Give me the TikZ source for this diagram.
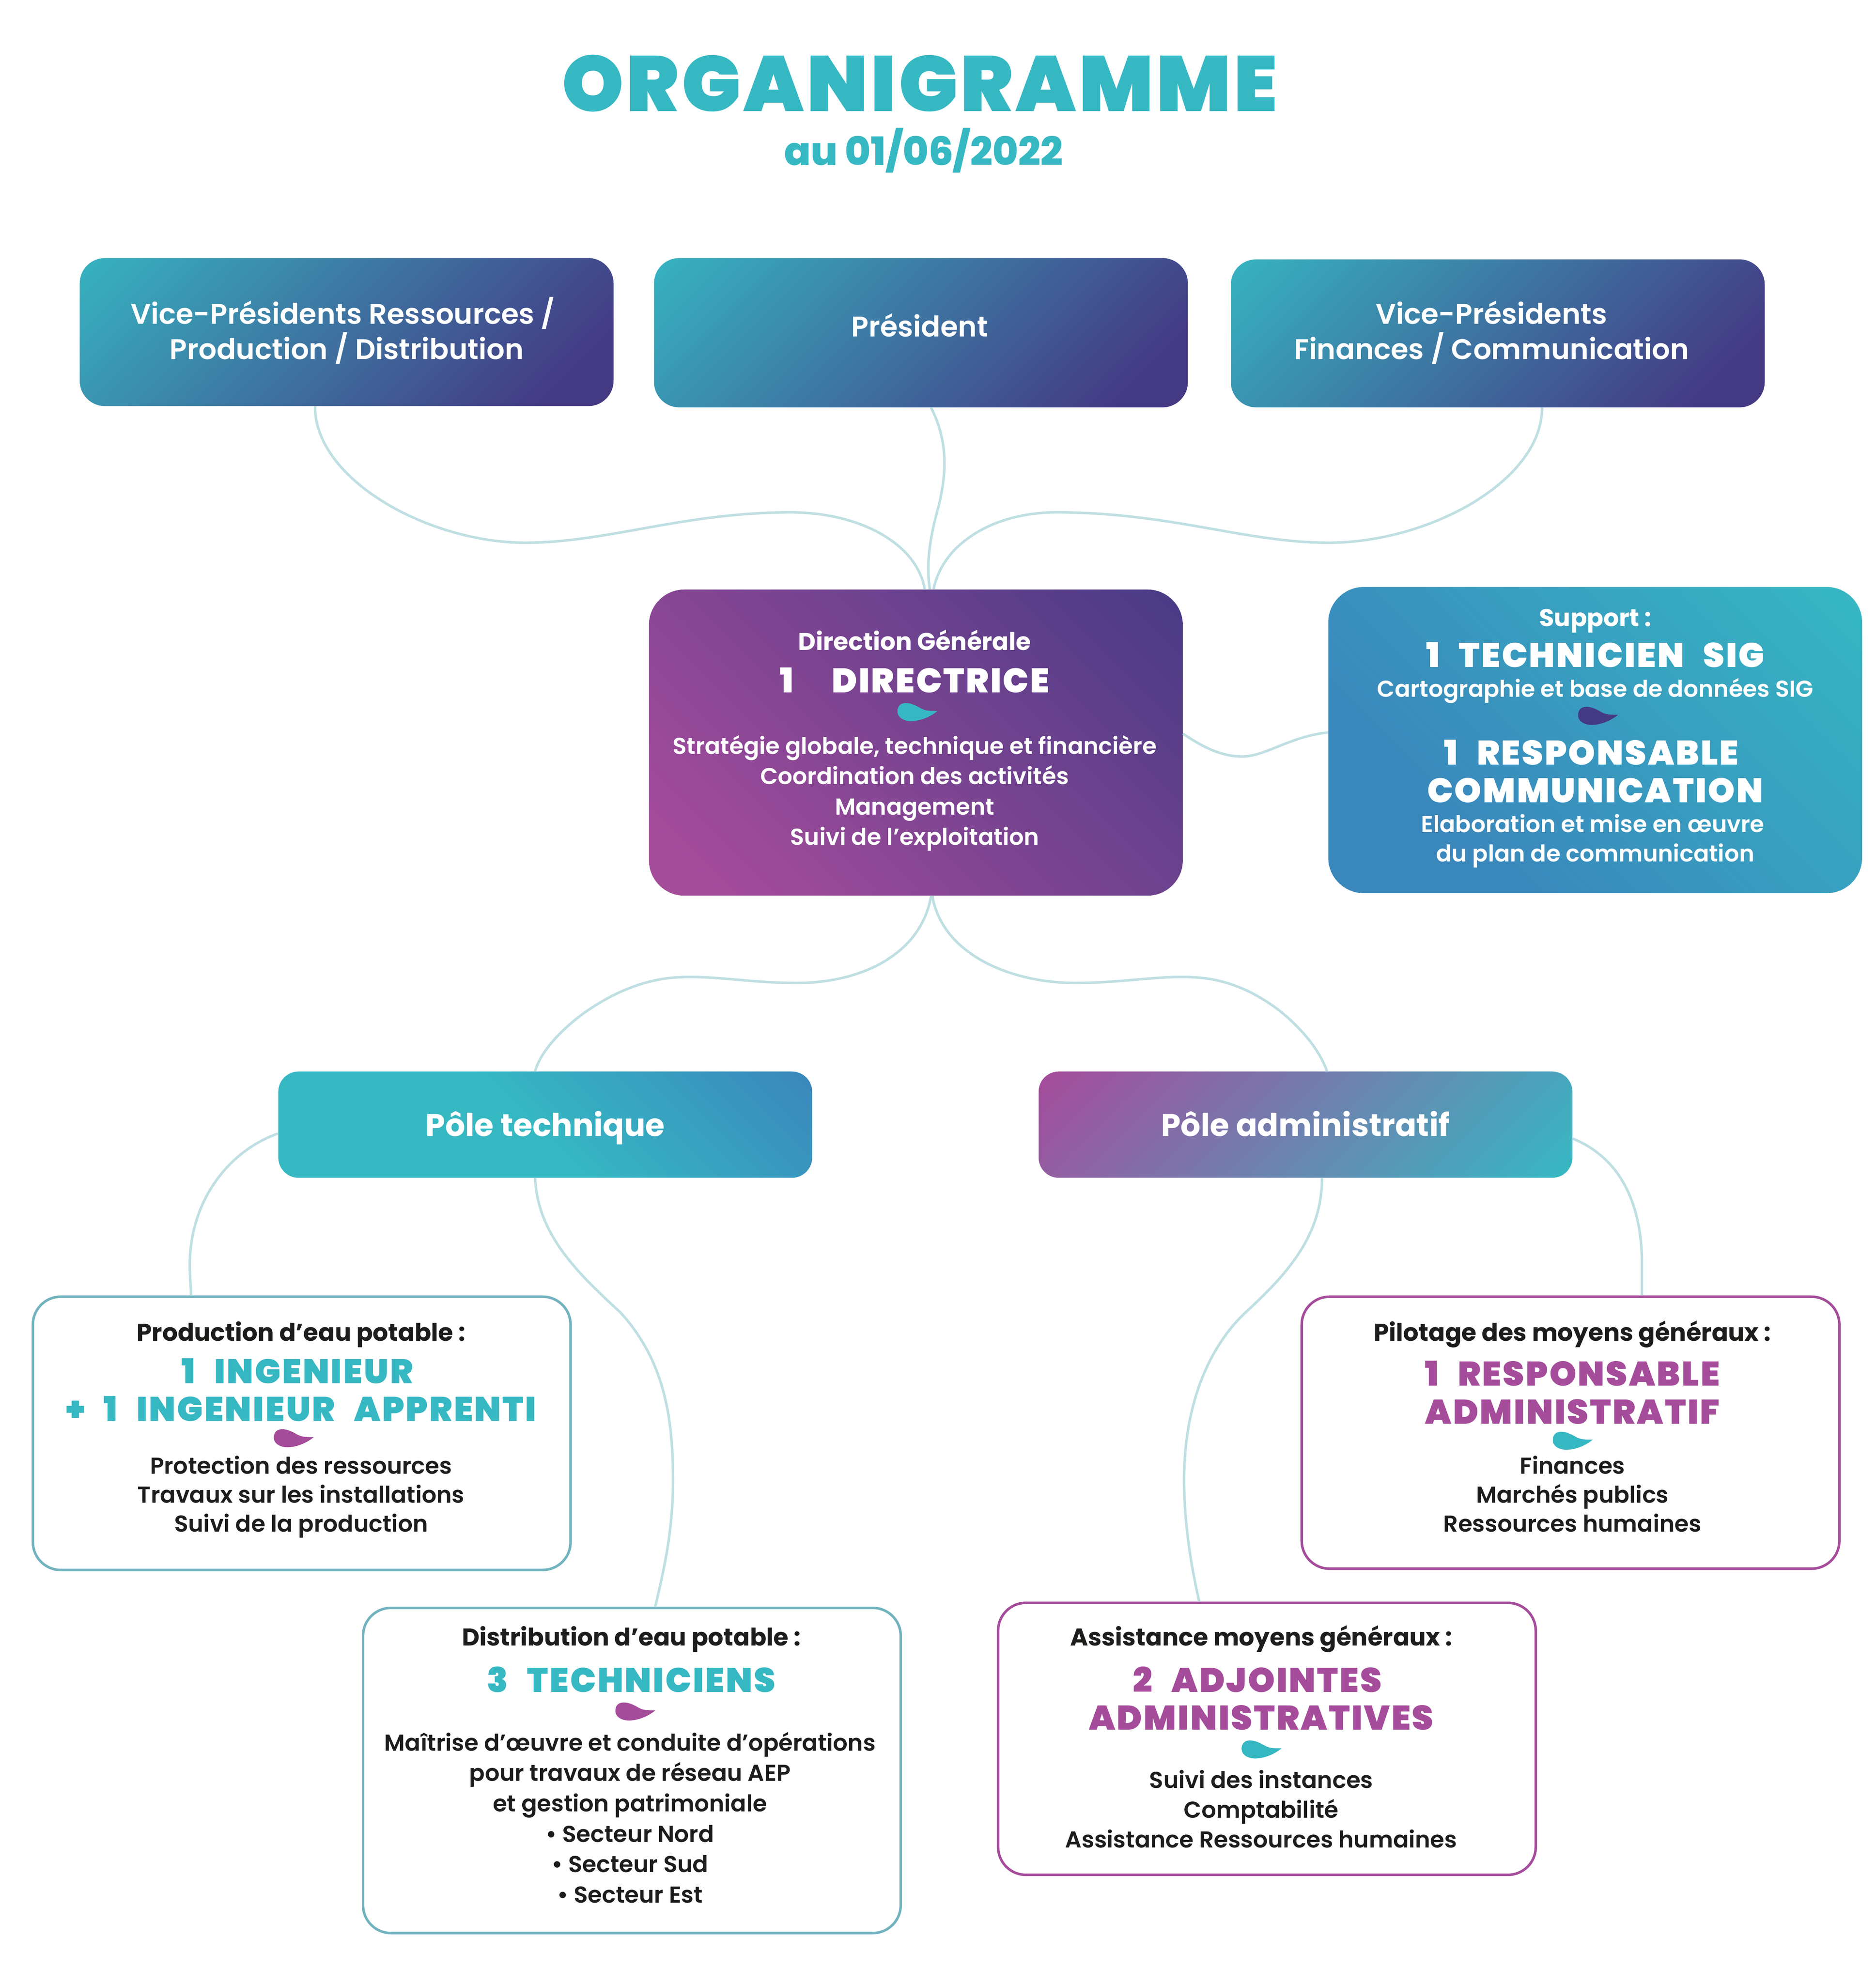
\documentclass[tikz,border=0pt]{standalone}
\usepackage{fontspec}
\setmainfont{Poppins}
\newfontface\fontMoyen{Poppins SemiBold}
\newfontface\fontGras{Poppins Bold}
\newfontface\fontExtra{Poppins ExtraBold}
\newfontface\fontTitre{Poppins Black}[LetterSpace=3.5]
\newfontface\fontLourd{Poppins Black}[LetterSpace=4.5,WordSpace=2.6]

\definecolor{teal1}{HTML}{36B8C3}
\definecolor{navy1}{HTML}{443A84}
\definecolor{blue1}{HTML}{3A87BC}
\definecolor{purple1}{HTML}{A54C9B}
\definecolor{light1}{HTML}{BFDFE3}
\definecolor{stroke1}{HTML}{72B3BF}
\definecolor{dark1}{HTML}{1D1D1B}

\pgfdeclareverticalshading{navyTeal}{100bp}{color(0bp)=(navy1); color(22bp)=(navy1); color(88bp)=(teal1); color(100bp)=(teal1)}
\pgfdeclareverticalshading{purpleNavy}{100bp}{color(0bp)=(purple1); color(20bp)=(purple1); color(88bp)=(navy1); color(100bp)=(navy1)}
\pgfdeclareverticalshading{blueTeal}{100bp}{color(0bp)=(blue1); color(30bp)=(blue1); color(85bp)=(teal1); color(100bp)=(teal1)}
\pgfdeclareverticalshading{tealBlue}{100bp}{color(0bp)=(teal1); color(48bp)=(teal1); color(85bp)=(blue1); color(100bp)=(blue1)}
\pgfdeclareverticalshading{tealPurple}{100bp}{color(0bp)=(teal1); color(15bp)=(teal1); color(85bp)=(purple1); color(100bp)=(purple1)}

\tikzstyle{box}=[inner sep=0pt,minimum width=422pt,rounded corners=20pt,shade]
\tikzstyle{plain}=[inner sep=0pt,minimum width=425pt,rounded corners=22pt,fill=white,line width=2pt]
\tikzstyle{link}=[light1,line width=2pt]
\tikzstyle{head}=[inner sep=0pt,anchor=base,yshift=-7pt,font=\fontGras\fontsize{19.2}{22}\selectfont]
\tikzstyle{rank}=[inner sep=0pt,anchor=base,yshift=-9.5pt,font=\fontLourd\fontsize{27}{30}\selectfont]
\tikzstyle{task}=[inner sep=0pt,anchor=base,yshift=-7pt,font=\fontMoyen\fontsize{18.2}{24}\selectfont]
\tikzstyle{nameLine}=[inner sep=0pt,anchor=base,yshift=-8pt,font=\fontMoyen\fontsize{22.5}{28}\selectfont,text=white]
\tikzstyle{poleName}=[inner sep=0pt,anchor=base,yshift=-9pt,font=\fontGras\fontsize{24.8}{28}\selectfont,text=white]

\newcommand{\drop}[3]{\fill[#3,shift={(#1,#2)}] (16,-1) .. controls (10,-1) and (7,-1) .. (3,-3) .. controls (-2,-6) and (-7,-8) .. (-11,-7) .. controls (-16,-6) and (-16,0) .. (-15,2) .. controls (-13,6) and (-8,7) .. (-5,7) .. controls (2,7) and (10,4) .. (16,-1) -- cycle;}

\begin{document}
\begin{tikzpicture}[x=1pt,y=-1pt]
	\useasboundingbox (0,0) rectangle (1482.8,1568.3);

	% Titre
	\node(title) at (727,66) [inner sep=0pt,text=teal1,font=\fontTitre\fontsize{62}{70}\selectfont] {ORGANIGRAMME};
	\node(date) at (730,119) [inner sep=0pt,text=teal1,font=\fontExtra\fontsize{31}{34}\selectfont] {au 01/06/2022};

	% Elus
	\node(vpLeft) at (274,262.5) [box, shading=navyTeal, shading angle=45, minimum height=117pt] {};
	\node(president) at (728,263) [box, shading=navyTeal, shading angle=45, minimum height=118pt] {};
	\node(vpRight) at (1184,263.5) [box, shading=navyTeal, shading angle=45, minimum height=117pt] {};
	\node(vpLeftA) at (271,248) [nameLine] {Vice-Présidents Ressources /};
	\node(vpLeftB) at (274,276) [nameLine] {Production / Distribution};
	\node(presidentA) at (727,258) [nameLine] {Président};
	\node(vpRightA) at (1179,248) [nameLine] {Vice-Présidents};
	\node(vpRightB) at (1179,276) [nameLine] {Finances / Communication};

	% Direction
	\node(direction) at (724,587) [box, rounded corners=28pt, minimum height=242pt, shading=purpleNavy, shading angle=-45] {};
	\node(dirHead) at (723,507) [head, text=white] {Direction Générale};
	\node(dirRank) at (723,538) [rank, text=white] {1\ \ DIRECTRICE};
	\drop{725}{563}{teal1}
	\foreach \txt [count=\i] in {{Stratégie globale, technique et financière},Coordination des activités,Management,Suivi de l’exploitation}
		\node(dirTask\i) at (723,{565+24*\i}) [task, text=white] {\txt};

	% Support
	\node(support) at (1261,585) [box, rounded corners=28pt, minimum height=242pt, shading=blueTeal, shading angle=-45] {};
	\node(supHead) at (1261,488) [head, text=white] {Support :};
	\node(supRankA) at (1261,518) [rank, text=white] {1 TECHNICIEN SIG};
	\node(supTaskA) at (1261,544) [task, text=white] {Cartographie et base de données SIG};
	\drop{1263}{566}{navy1}
	\node(supRankB) at (1258,595) [rank, text=white] {1 RESPONSABLE};
	\node(supRankC) at (1261,625) [rank, text=white] {COMMUNICATION};
	\node(supTaskB) at (1259,651) [task, text=white] {Elaboration et mise en œuvre};
	\node(supTaskC) at (1261,674) [task, text=white] {du plan de communication};

	% Poles
	\node(tech) at (431,889) [box, rounded corners=16pt, minimum height=84pt, shading=tealBlue, shading angle=-45] {};
	\node(admin) at (1032,889) [box, rounded corners=16pt, minimum height=84pt, shading=tealPurple, shading angle=45] {};
	\node(techName) at (431,889) [poleName] {Pôle technique};
	\node(adminName) at (1032,889) [poleName] {Pôle administratif};

	% Production
	\node(prod) at (238.5,1133) [plain, draw=stroke1, minimum height=216pt] {};
	\node(prodHead) at (238,1053) [head, text=dark1] {Production d’eau potable :};
	\node(prodRankA) at (235,1084) [rank, text=teal1] {1 INGENIEUR};
	\node(prodRankB) at (238,1114) [rank, text=teal1] {+ 1 INGENIEUR APPRENTI};
	\drop{232}{1137}{purple1}
	\foreach \txt [count=\i] in {Protection des ressources,Travaux sur les installations,Suivi de la production}
		\node(prodTask\i) at (238,{1135+23*\i}) [task, text=dark1] {\txt};

	% Distribution
	\node(dist) at (499.5,1399.5) [plain, draw=stroke1, minimum height=257pt] {};
	\node(distHead) at (499,1294) [head, text=dark1] {Distribution d’eau potable :};
	\node(distRank) at (499,1328) [rank, text=teal1] {3 TECHNICIENS};
	\drop{502}{1353}{purple1}
	\foreach \txt [count=\i] in {Maîtrise d’œuvre et conduite d’opérations,pour travaux de réseau AEP,et gestion patrimoniale,• Secteur Nord,• Secteur Sud,• Secteur Est}
		\node(distTask\i) at (498,{1353+24*\i}) [task, text=dark1] {\txt};

	% Pilotage
	\node(pilot) at (1241.5,1132.5) [plain, draw=purple1, minimum height=215pt] {};
	\node(pilotHead) at (1243,1053) [head, text=dark1] {Pilotage des moyens généraux :};
	\node(pilotRankA) at (1243,1086) [rank, text=purple1] {1 RESPONSABLE};
	\node(pilotRankB) at (1243,1116) [rank, text=purple1] {ADMINISTRATIF};
	\drop{1243}{1139}{teal1}
	\foreach \txt [count=\i] in {Finances,Marchés publics,Ressources humaines}
		\node(pilotTask\i) at (1243,{1135+23*\i}) [task, text=dark1] {\txt};

	% Assistance
	\node(assist) at (1001.5,1374.5) [plain, draw=purple1, minimum height=215pt] {};
	\node(assistHead) at (997,1294) [head, text=dark1] {Assistance moyens généraux :};
	\node(assistRankA) at (994,1328) [rank, text=purple1] {2 ADJOINTES};
	\node(assistRankB) at (997,1358) [rank, text=purple1] {ADMINISTRATIVES};
	\drop{997}{1383}{teal1}
	\foreach \txt [count=\i] in {Suivi des instances,Comptabilité,Assistance Ressources humaines}
		\node(assistTask\i) at (997,{1383+23.5*\i}) [task, text=dark1] {\txt};

	% Liens
	\draw[link] ([xshift=-25pt]vpLeft.south) .. controls (249,380) and (340,429) .. (415,429) .. controls (480,429) and (540,405) .. (625,405) .. controls (680,405) and (725,430) .. ([xshift=7pt]direction.north);
	\draw[link] ([xshift=8pt]president.south) .. controls (750,350) and (748,375) .. (742,400) .. controls (735,425) and (732,445) .. ([xshift=11pt]direction.north);
	\draw[link] ([xshift=35pt]vpRight.south) .. controls (1219,380) and (1130,429) .. (1050,429) .. controls (985,429) and (925,405) .. (835,405) .. controls (785,405) and (745,430) .. ([xshift=14pt]direction.north);
	\draw[link] ([yshift=7pt]direction.east) .. controls (950,590) and (965,598) .. (982,598) .. controls (1000,598) and (1020,582) .. ([yshift=6pt]support.west);
	\draw[link] ([xshift=12pt]direction.south) .. controls (728,755) and (680,777) .. (630,777) .. controls (590,777) and (560,770) .. (530,773) .. controls (480,778) and (430,820) .. ([xshift=-8pt]tech.north);
	\draw[link] ([xshift=13pt]direction.south) .. controls (745,755) and (800,777) .. (850,777) .. controls (890,777) and (920,770) .. (950,773) .. controls (1000,778) and (1040,820) .. ([xshift=17pt]admin.north);
	\draw[link] ([yshift=-7pt]tech.west) .. controls (180,910) and (150,950) .. (150,1000) .. controls (150,1010) and (151,1018) .. ([xshift=-87.5pt]prod.north);
	\draw[link] ([xshift=-8pt]tech.south) .. controls (425,975) and (455,1005) .. (490,1037) .. controls (525,1075) and (532,1120) .. (532,1170) .. controls (532,1210) and (525,1240) .. ([xshift=18.5pt]dist.north);
	\draw[link] ([xshift=13pt]admin.south) .. controls (1045,975) and (1020,1005) .. (985,1037) .. controls (950,1070) and (936,1120) .. (936,1170) .. controls (936,1205) and (942,1240) .. ([xshift=-53.5pt]assist.north);
	\draw[link] ([yshift=-11pt]admin.east) .. controls (1280,915) and (1298,950) .. (1298,1000) .. controls (1298,1010) and (1298,1018) .. ([xshift=56.5pt]pilot.north);
\end{tikzpicture}
\end{document}
